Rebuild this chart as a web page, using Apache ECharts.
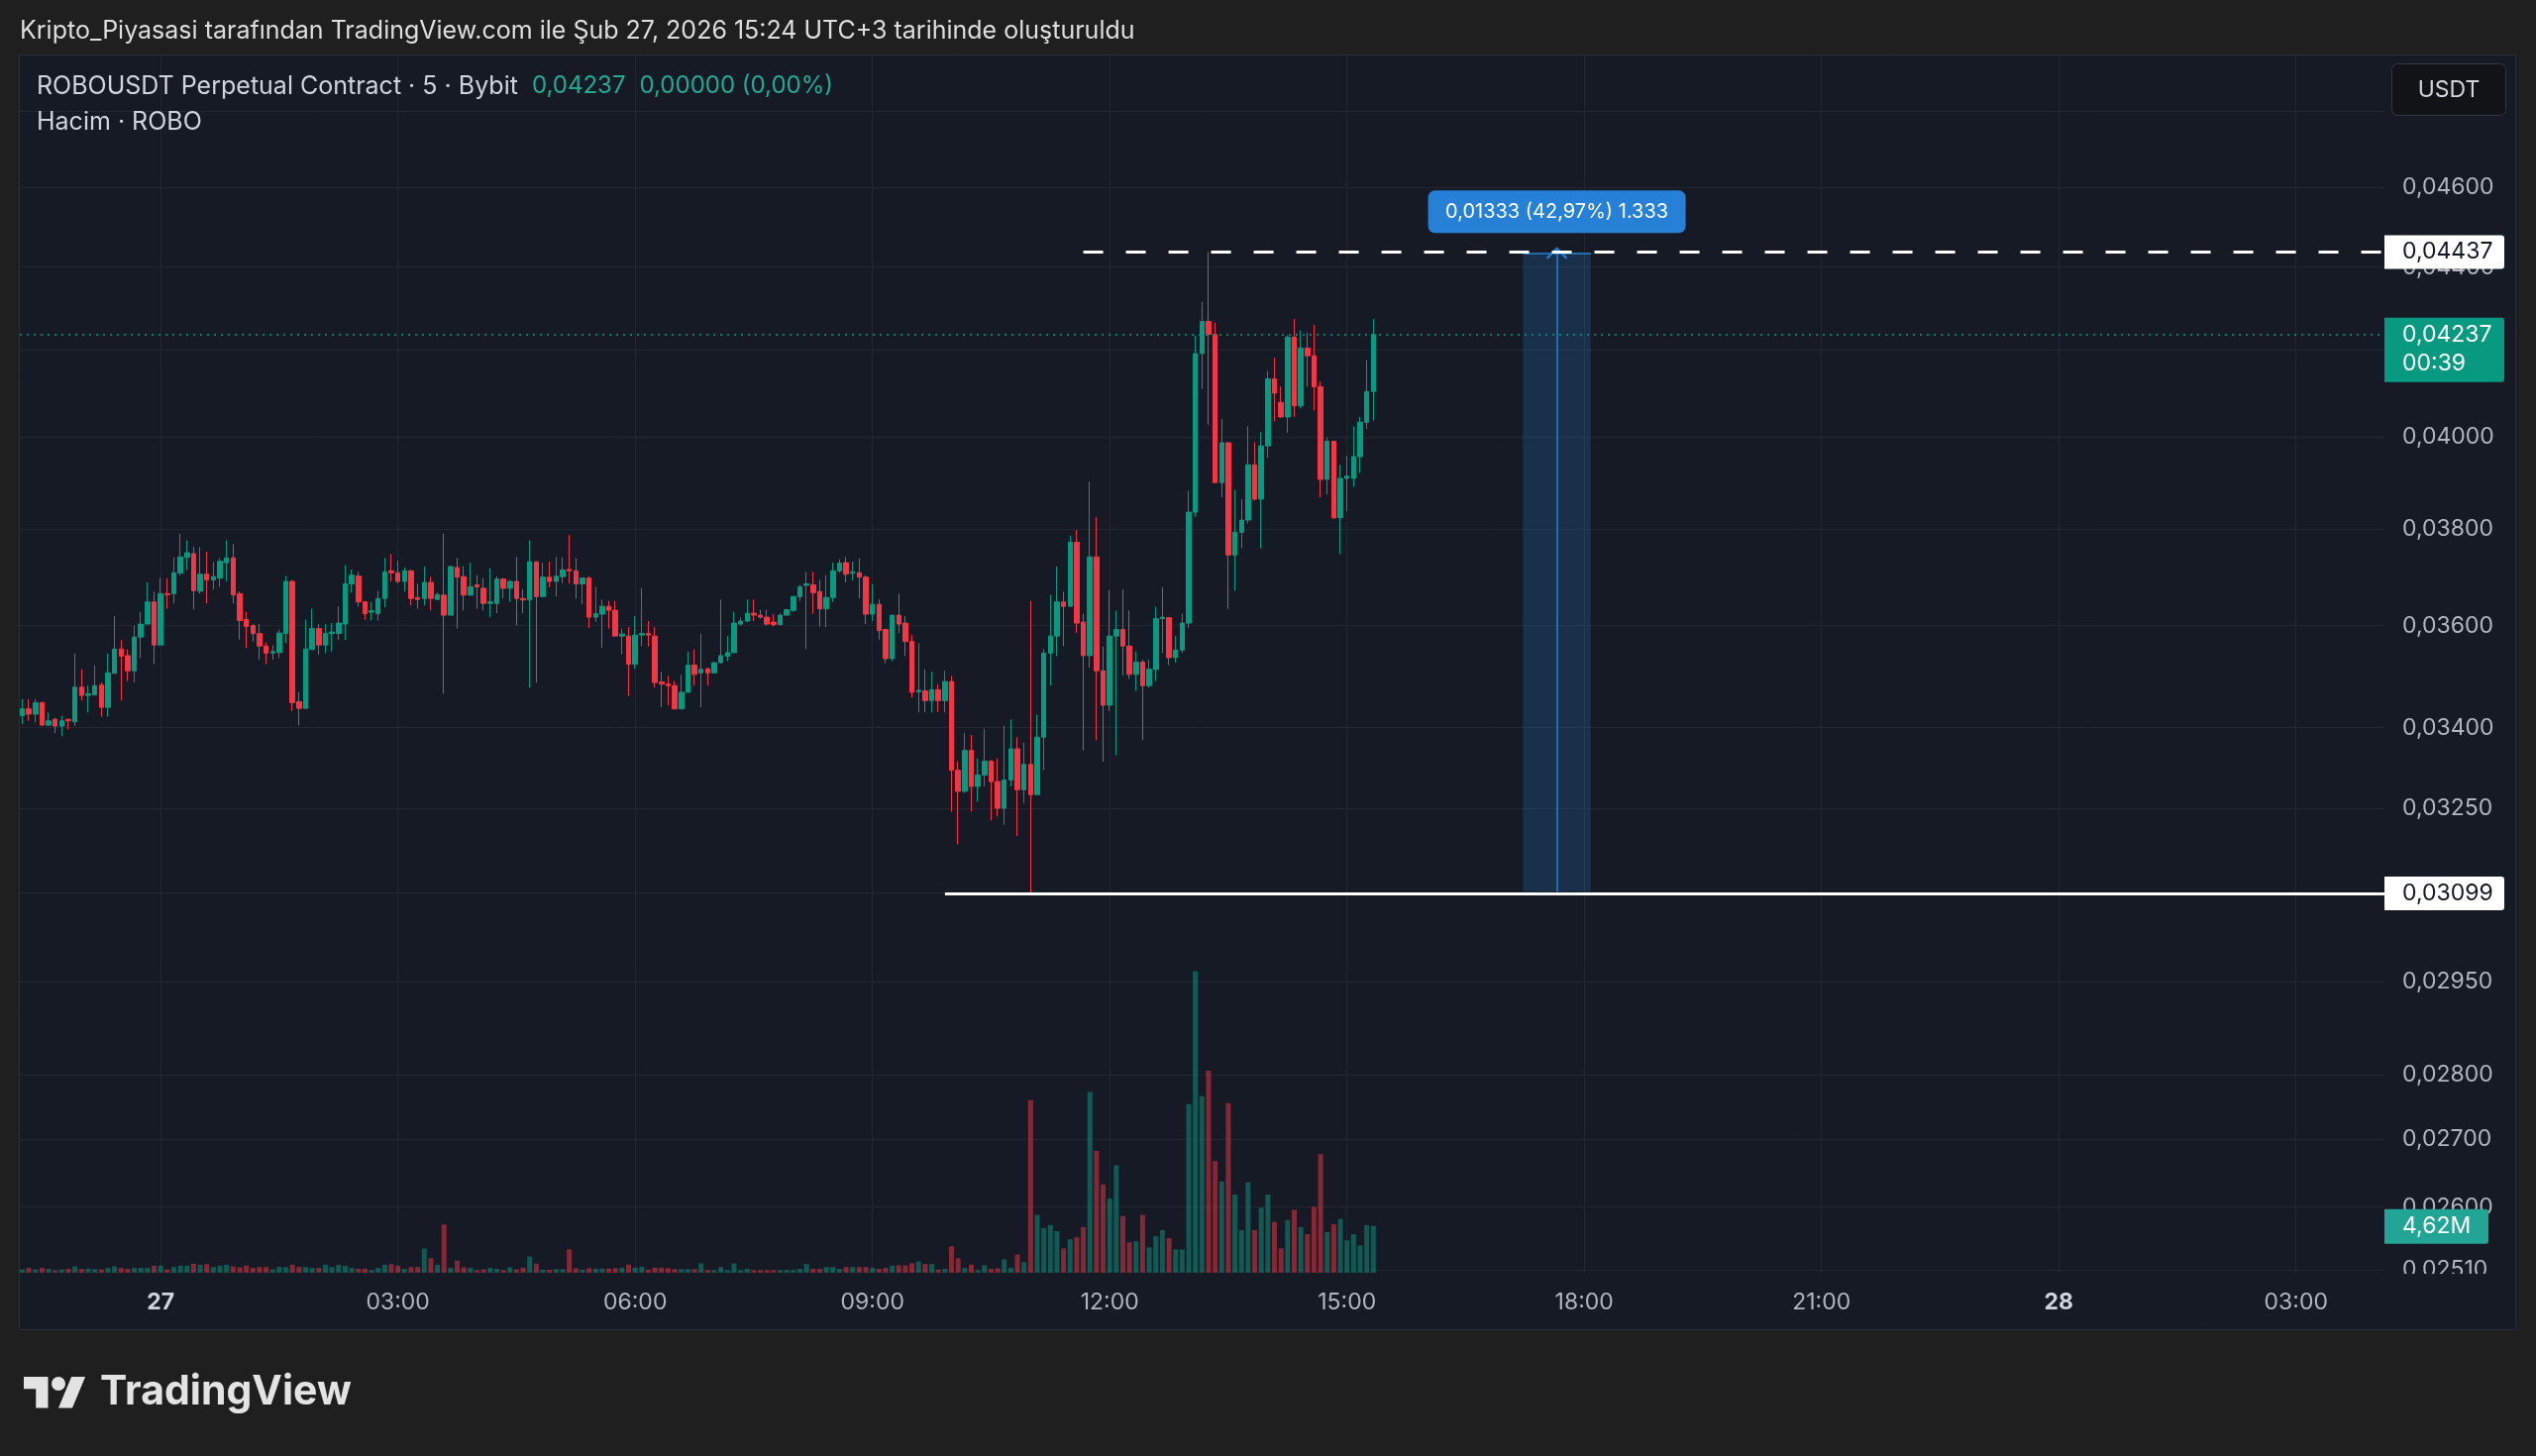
<!DOCTYPE html>
<html lang="tr">
<head>
<meta charset="utf-8">
<title>ROBOUSDT Perpetual Contract</title>
<script src="https://cdn.jsdelivr.net/npm/echarts@6.0.0/dist/echarts.min.js"></script>
<style>
html,body{margin:0;padding:0;background:#1f1f1f;}
#chart{width:2560px;height:1470px;}
</style>
</head>
<body>
<div id="chart"></div>
<script>
// ---- DATA (5-minute bars; bar index 0 = 27 Feb 00:00, first bar = 26 Feb 22:15) ----
const firstBar = -21;
const open = [
0.03423,0.03436,0.03426,0.03448,0.03405,0.03416,0.03403,0.03416,0.03411,0.03478,
0.03462,0.03463,0.03482,0.03439,0.03505,0.03553,0.03540,0.03510,0.03577,0.03603,
0.03648,0.03561,0.03665,0.03665,0.03707,0.03740,0.03748,0.03670,0.03705,0.03693,
0.03697,0.03729,0.03739,0.03665,0.03612,0.03600,0.03584,0.03559,0.03545,0.03546,
0.03584,0.03690,0.03450,0.03437,0.03552,0.03594,0.03561,0.03584,0.03584,0.03603,
0.03685,0.03701,0.03648,0.03627,0.03624,0.03655,0.03712,0.03708,0.03690,0.03712,
0.03657,0.03655,0.03688,0.03653,0.03662,0.03621,0.03719,0.03700,0.03662,0.03683,
0.03676,0.03645,0.03645,0.03695,0.03676,0.03690,0.03655,0.03652,0.03731,0.03659,
0.03699,0.03690,0.03700,0.03715,0.03712,0.03685,0.03697,0.03617,0.03623,0.03639,
0.03631,0.03579,0.03579,0.03523,0.03581,0.03584,0.03579,0.03488,0.03484,0.03481,
0.03436,0.03468,0.03521,0.03506,0.03514,0.03506,0.03526,0.03539,0.03546,0.03603,
0.03609,0.03625,0.03621,0.03617,0.03607,0.03602,0.03621,0.03631,0.03659,0.03682,
0.03683,0.03669,0.03634,0.03657,0.03712,0.03729,0.03707,0.03708,0.03699,0.03623,
0.03643,0.03592,0.03534,0.03621,0.03605,0.03568,0.03469,0.03471,0.03452,0.03473,
0.03452,0.03489,0.03320,0.03281,0.03357,0.03290,0.03311,0.03337,0.03299,0.03250,
0.03302,0.03360,0.03284,0.03331,0.03275,0.03382,0.03545,0.03579,0.03648,0.03639,
0.03772,0.03607,0.03540,0.03741,0.03510,0.03443,0.03579,0.03592,0.03559,0.03503,
0.03527,0.03481,0.03513,0.03614,0.03616,0.03536,0.03551,0.03605,0.03836,0.04192,
0.04268,0.04237,0.03900,0.03988,0.03745,0.03793,0.03819,0.03939,0.03864,0.03981,
0.04133,0.04079,0.04046,0.04231,0.04071,0.04205,0.04187,0.04115,0.03907,0.03991,
0.03824,0.03909,0.03909,0.03957,0.04034,0.04104];
const high = [
0.03455,0.03455,0.03455,0.03450,0.03429,0.03419,0.03423,0.03417,0.03544,0.03513,
0.03481,0.03521,0.03487,0.03544,0.03619,0.03571,0.03552,0.03600,0.03628,0.03688,
0.03669,0.03697,0.03697,0.03740,0.03790,0.03776,0.03762,0.03762,0.03752,0.03731,
0.03738,0.03776,0.03768,0.03669,0.03628,0.03603,0.03603,0.03566,0.03561,0.03592,
0.03702,0.03693,0.03468,0.03612,0.03634,0.03603,0.03603,0.03605,0.03639,0.03724,
0.03715,0.03710,0.03650,0.03648,0.03671,0.03739,0.03747,0.03733,0.03719,0.03714,
0.03685,0.03721,0.03700,0.03667,0.03790,0.03722,0.03739,0.03722,0.03729,0.03703,
0.03697,0.03717,0.03701,0.03697,0.03693,0.03741,0.03674,0.03776,0.03731,0.03729,
0.03731,0.03741,0.03740,0.03788,0.03738,0.03698,0.03700,0.03679,0.03653,0.03650,
0.03650,0.03594,0.03597,0.03619,0.03676,0.03609,0.03597,0.03508,0.03500,0.03490,
0.03502,0.03548,0.03552,0.03584,0.03516,0.03527,0.03653,0.03579,0.03628,0.03616,
0.03653,0.03653,0.03632,0.03632,0.03623,0.03625,0.03634,0.03660,0.03683,0.03710,
0.03710,0.03694,0.03703,0.03729,0.03736,0.03741,0.03731,0.03738,0.03703,0.03685,
0.03653,0.03594,0.03621,0.03665,0.03619,0.03581,0.03565,0.03513,0.03508,0.03484,
0.03510,0.03500,0.03337,0.03390,0.03386,0.03342,0.03398,0.03339,0.03342,0.03404,
0.03416,0.03382,0.03372,0.03650,0.03425,0.03553,0.03662,0.03721,0.03669,0.03786,
0.03798,0.03624,0.03902,0.03825,0.03558,0.03672,0.03630,0.03674,0.03631,0.03548,
0.03532,0.03532,0.03638,0.03678,0.03617,0.03579,0.03624,0.03882,0.04235,0.04315,
0.04437,0.04265,0.04041,0.03988,0.03884,0.03864,0.04025,0.03989,0.04012,0.04151,
0.04182,0.04115,0.04235,0.04274,0.04247,0.04242,0.04260,0.04127,0.04000,0.03991,
0.03939,0.03959,0.04025,0.04046,0.04177,0.04274];
const low = [
0.03407,0.03413,0.03410,0.03403,0.03403,0.03390,0.03384,0.03397,0.03403,0.03452,
0.03429,0.03462,0.03421,0.03421,0.03505,0.03452,0.03490,0.03487,0.03535,0.03603,
0.03523,0.03561,0.03634,0.03645,0.03703,0.03714,0.03632,0.03665,0.03645,0.03674,
0.03679,0.03690,0.03645,0.03572,0.03555,0.03568,0.03532,0.03523,0.03532,0.03535,
0.03565,0.03432,0.03405,0.03437,0.03552,0.03542,0.03545,0.03548,0.03571,0.03571,
0.03667,0.03638,0.03612,0.03610,0.03610,0.03637,0.03690,0.03686,0.03669,0.03641,
0.03634,0.03641,0.03631,0.03652,0.03465,0.03621,0.03594,0.03631,0.03660,0.03634,
0.03631,0.03617,0.03625,0.03655,0.03648,0.03600,0.03625,0.03477,0.03487,0.03659,
0.03678,0.03659,0.03686,0.03686,0.03655,0.03643,0.03595,0.03607,0.03555,0.03594,
0.03579,0.03543,0.03461,0.03514,0.03559,0.03558,0.03477,0.03439,0.03443,0.03436,
0.03436,0.03468,0.03481,0.03439,0.03481,0.03506,0.03524,0.03529,0.03545,0.03600,
0.03607,0.03609,0.03614,0.03600,0.03598,0.03600,0.03621,0.03628,0.03650,0.03553,
0.03624,0.03598,0.03597,0.03648,0.03708,0.03688,0.03692,0.03655,0.03603,0.03609,
0.03572,0.03525,0.03529,0.03585,0.03539,0.03458,0.03429,0.03429,0.03429,0.03430,
0.03429,0.03244,0.03185,0.03278,0.03244,0.03262,0.03290,0.03228,0.03235,0.03220,
0.03290,0.03200,0.03259,0.03099,0.03275,0.03320,0.03481,0.03539,0.03559,0.03639,
0.03585,0.03357,0.03516,0.03376,0.03336,0.03432,0.03348,0.03501,0.03494,0.03471,
0.03376,0.03477,0.03490,0.03545,0.03521,0.03526,0.03545,0.03595,0.03826,0.04110,
0.04028,0.03900,0.03868,0.03634,0.03671,0.03759,0.03812,0.03861,0.03759,0.03955,
0.04036,0.04044,0.04010,0.04046,0.04065,0.04115,0.04061,0.03868,0.03874,0.03821,
0.03747,0.03838,0.03891,0.03921,0.04019,0.04038];
const close = [
0.03436,0.03426,0.03448,0.03405,0.03413,0.03403,0.03413,0.03413,0.03478,0.03462,
0.03465,0.03481,0.03439,0.03506,0.03553,0.03539,0.03510,0.03577,0.03603,0.03648,
0.03561,0.03665,0.03663,0.03708,0.03741,0.03750,0.03671,0.03705,0.03693,0.03700,
0.03732,0.03739,0.03662,0.03610,0.03598,0.03584,0.03559,0.03545,0.03548,0.03585,
0.03690,0.03448,0.03437,0.03553,0.03594,0.03561,0.03584,0.03587,0.03605,0.03685,
0.03703,0.03648,0.03624,0.03630,0.03655,0.03710,0.03708,0.03690,0.03712,0.03655,
0.03653,0.03688,0.03655,0.03663,0.03621,0.03721,0.03699,0.03662,0.03679,0.03679,
0.03645,0.03648,0.03695,0.03676,0.03690,0.03655,0.03652,0.03731,0.03659,0.03699,
0.03690,0.03701,0.03714,0.03712,0.03685,0.03697,0.03617,0.03624,0.03639,0.03631,
0.03579,0.03583,0.03523,0.03581,0.03584,0.03581,0.03487,0.03484,0.03481,0.03436,
0.03468,0.03521,0.03503,0.03513,0.03506,0.03526,0.03540,0.03546,0.03605,0.03609,
0.03625,0.03621,0.03617,0.03603,0.03602,0.03621,0.03632,0.03659,0.03679,0.03685,
0.03667,0.03634,0.03657,0.03712,0.03728,0.03705,0.03710,0.03699,0.03623,0.03643,
0.03590,0.03534,0.03621,0.03603,0.03568,0.03468,0.03472,0.03452,0.03473,0.03452,
0.03489,0.03320,0.03281,0.03357,0.03290,0.03311,0.03337,0.03299,0.03250,0.03302,
0.03360,0.03284,0.03331,0.03275,0.03382,0.03545,0.03579,0.03648,0.03639,0.03772,
0.03605,0.03540,0.03741,0.03510,0.03443,0.03579,0.03592,0.03559,0.03503,0.03527,
0.03481,0.03513,0.03614,0.03617,0.03536,0.03551,0.03605,0.03836,0.04192,0.04268,
0.04237,0.03900,0.03988,0.03745,0.03793,0.03819,0.03939,0.03864,0.03981,0.04133,
0.04100,0.04046,0.04231,0.04071,0.04205,0.04187,0.04115,0.03907,0.03991,0.03824,
0.03909,0.03914,0.03957,0.04034,0.04104,0.04237];
// volume in millions ROBO
const volume = [
0.32,0.48,0.32,0.48,0.38,0.22,0.32,0.38,0.63,0.38,
0.41,0.35,0.32,0.48,0.63,0.48,0.38,0.48,0.48,0.48,
0.70,0.70,0.32,0.57,0.70,0.70,0.89,0.79,0.86,0.57,
0.70,0.79,0.63,0.54,0.70,0.48,0.57,0.57,0.32,0.57,
0.57,0.79,0.57,0.57,0.48,0.48,0.79,0.57,0.79,0.70,
0.48,0.38,0.38,0.25,0.48,0.79,0.86,0.70,0.38,0.57,
0.57,2.38,1.43,0.79,4.76,0.48,1.20,0.54,0.48,0.25,
0.32,0.48,0.38,0.25,0.54,0.32,0.50,1.60,0.90,0.30,
0.30,0.35,0.35,2.30,0.45,0.30,0.45,0.40,0.40,0.40,
0.45,0.50,0.80,0.50,0.60,0.30,0.50,0.50,0.45,0.35,
0.35,0.35,0.35,0.92,0.25,0.25,0.57,0.25,0.92,0.25,
0.38,0.25,0.25,0.25,0.25,0.25,0.25,0.25,0.38,0.86,
0.38,0.38,0.57,0.57,0.38,0.57,0.57,0.57,0.57,0.48,
0.38,0.48,0.70,0.73,0.73,0.95,1.11,0.86,0.86,0.30,
0.38,2.60,1.43,0.48,0.80,0.25,0.76,0.38,0.44,1.33,
0.48,1.81,1.05,17.0,5.7,4.4,4.7,4.1,2.4,3.3,
3.5,4.5,17.8,12.0,8.7,7.3,10.6,5.6,3.0,3.1,
5.7,2.5,3.6,4.2,3.4,2.3,2.3,16.6,29.7,17.4,
19.9,11.0,9.0,16.7,7.7,4.2,8.9,4.2,6.4,7.7,
5.0,2.4,5.2,6.2,4.5,3.8,6.5,11.7,4.0,4.8,
5.3,3.2,3.8,2.7,4.7,4.62];

// time axis: one label every 36 bars (3 hours)
const timeLabels = ['27','03:00','06:00','09:00','12:00','15:00','18:00','21:00','28','03:00'];
const barsPerLabel = 36;
// price scale (logarithmic) tick values
const priceTicks = [0.048,0.046,0.044,0.042,0.040,0.038,0.036,0.034,0.0325,0.031,0.0295,0.028,0.027,0.026,0.0251];
const unlabelledTicks = [0.048];

// drawings
const lastPrice = 0.04237;
const countdown = '00:39';
const highLevel = 0.04437, highLevelFromBar = 140;
const lowLevel = 0.03099, lowLevelFromBar = 119;
const rangeTop = 0.04435, rangeBottom = 0.03102, rangeFromBar = 206.7, rangeToBar = 217;
const priceTick = 0.00001;

const titleText = 'Kripto_Piyasasi tarafından TradingView.com ile Şub 27, 2026 15:24 UTC+3 tarihinde oluşturuldu';
const legendName = 'ROBOUSDT Perpetual Contract · 5 · Bybit';
const legendPrice = '0,04237';
const legendChange = '0,00000 (0,00%)';
const volumeLegend = 'Hacim · ROBO';
const currencyButton = 'USDT';

// ---- view / style ----
const viewStart = -21.37, viewEnd = 337.42;        // visible bar range
const axisPriceMin = 0.02506, axisPriceMax = 0.04956; // visible price range
const volumeAxisMax = 120;
const FONT = 'Inter, Roboto, "Noto Sans", sans-serif';
const COL = {
  page:'#1f1f1f', panel:'#161a25', panelBorder:'#2a2e39', grid:'#232733',
  up:'#089981', down:'#f23645', volUp:'rgba(8,153,129,0.5)', volDown:'rgba(242,54,69,0.5)',
  axisText:'#b2b5be', text:'#d1d4dc', title:'#dedede',
  range:'#2680d6', rangeFill:'rgba(38,128,214,0.22)', volTag:'#22a594'
};
const GRID = {left:20, top:55, width:2387, height:1230};

const L = p => Math.log(p);
const fmtPrice = p => p.toFixed(5).replace('.', ',');
const groupThousands = n => String(n).replace(/\B(?=(\d{3})+(?!\d))/g, '.');

const barIndex = open.map((_, k) => firstBar + k);
const candleData = barIndex.map((x, k) => [x, L(open[k]), L(close[k]), L(low[k]), L(high[k])]);
const volData = barIndex.map((x, k) => [x, volume[k]]);
const timeTickValues = timeLabels.map((_, k) => k * barsPerLabel);
const labelledTicks = priceTicks.filter(p => unlabelledTicks.indexOf(p) < 0);
const rangeMid = (rangeFromBar + rangeToBar) / 2;

const chart = echarts.init(document.getElementById('chart'), null, {renderer:'canvas', width:2560, height:1470});

const option = {
  animation:false,
  backgroundColor: COL.page,
  grid:[
    Object.assign({containLabel:false, outerBoundsMode:'none'}, GRID),
    Object.assign({containLabel:false, outerBoundsMode:'none'}, GRID)
  ],
  xAxis:[
    {
      type:'value', gridIndex:0, min:viewStart, max:viewEnd,
      axisLine:{show:false},
      axisTick:{show:false, customValues:timeTickValues},
      splitLine:{show:true, lineStyle:{color:COL.grid, width:1}},
      axisLabel:{
        customValues:timeTickValues, margin:19, fontSize:23, color:COL.axisText, fontFamily:FONT,
        formatter: v => {
          const s = timeLabels[Math.round(v / barsPerLabel)];
          return s.indexOf(':') < 0 ? '{d|' + s + '}' : s;
        },
        rich:{d:{fontSize:23, fontWeight:'bold', color:COL.text, fontFamily:FONT}}
      }
    },
    {type:'value', gridIndex:1, min:viewStart, max:viewEnd, show:false, splitLine:{show:false}}
  ],
  yAxis:[
    {
      type:'value', gridIndex:0, position:'right', min:L(axisPriceMin), max:L(axisPriceMax),
      axisLine:{show:false},
      axisTick:{show:false, customValues:priceTicks.map(L)},
      splitLine:{show:true, lineStyle:{color:COL.grid, width:1}},
      axisLabel:{
        customValues:labelledTicks.map(L), margin:18, fontSize:23, color:COL.axisText, fontFamily:FONT,
        formatter: v => fmtPrice(Math.exp(v))
      }
    },
    {type:'value', gridIndex:1, min:0, max:volumeAxisMax, show:false, splitLine:{show:false}}
  ],
  series:[
    {
      type:'bar', name:'Hacim', xAxisIndex:1, yAxisIndex:1, data:volData, barWidth:5, silent:true,
      itemStyle:{color: p => close[p.dataIndex] >= open[p.dataIndex] ? COL.volUp : COL.volDown}
    },
    {
      type:'candlestick', name:'ROBOUSDT', xAxisIndex:0, yAxisIndex:0, data:candleData,
      encode:{x:0, y:[1,2,3,4]}, barWidth:5, silent:true,
      itemStyle:{color:COL.up, color0:COL.down, borderColor:COL.up, borderColor0:COL.down, borderWidth:1},
      markArea:{
        silent:true, itemStyle:{color:COL.rangeFill},
        data:[[{coord:[rangeFromBar, L(rangeBottom)]}, {coord:[rangeToBar, L(rangeTop)]}]]
      },
      markLine:{
        silent:true, symbol:['none','none'], label:{show:false}, animation:false,
        data:[
          [{coord:[viewStart, L(lastPrice)], lineStyle:{color:COL.up, type:[2,5], width:1.5}}, {coord:[viewEnd, L(lastPrice)]}],
          [{coord:[rangeFromBar, L(rangeTop)], lineStyle:{color:COL.range, type:'solid', width:1.5}}, {coord:[rangeToBar, L(rangeTop)]}],
          [{coord:[rangeMid, L(rangeBottom)], symbol:'none', lineStyle:{color:COL.range, type:'solid', width:1.5}},
           {coord:[rangeMid, L(rangeTop)], symbol:'path://M0,10 L5,0 L10,10 L8.9,10.7 L5,2.4 L1.1,10.7 Z', symbolSize:[22,12]}],
          [{coord:[highLevelFromBar, L(highLevel)], lineStyle:{color:'#ffffff', type:[20,23], width:3}}, {coord:[viewEnd, L(highLevel)]}],
          [{coord:[lowLevelFromBar, L(lowLevel)], lineStyle:{color:'#ffffff', type:'solid', width:3}}, {coord:[viewEnd, L(lowLevel)]}]
        ]
      }
    }
  ]
};
chart.setOption(option);

// ---- overlay texts & scale tags, positioned through the chart's own scales ----
const yOf = p => chart.convertToPixel({xAxisIndex:0, yAxisIndex:0}, [0, L(p)])[1];
const xOf = b => chart.convertToPixel({xAxisIndex:0, yAxisIndex:0}, [b, L(lastPrice)])[0];
const yVol = chart.convertToPixel({xAxisIndex:1, yAxisIndex:1}, [0, volume[volume.length - 1]])[1];
const scaleX = GRID.left + GRID.width;

function txt(x, y, text, font, fill, align) {
  return {
    type:'text', x:x, y:y, z:120,
    style:{text:text, font:font, fill:fill, textAlign:align || 'left', align:align || 'left',
           textVerticalAlign:'middle', verticalAlign:'middle'}
  };
}
function tag(y, w, h, text, fill, textFill) {
  return {
    type:'group', x:scaleX, y:y - 17, z:110,
    children:[
      {type:'rect', z:110, shape:{x:0, y:0, width:w, height:h, r:[0,3,3,0]}, style:{fill:fill}},
      txt(18, 17, text, '23px ' + FONT, textFill, 'left')
    ]
  };
}

const diff = rangeTop - rangeBottom;
const rangeText = fmtPrice(diff) + ' (' + (diff / rangeBottom * 100).toFixed(2).replace('.', ',') + '%) ' +
  groupThousands(Math.round(diff / priceTick));
const rangeCx = xOf(rangeMid);
const rangeTopY = yOf(rangeTop);

const curTag = tag(yOf(lastPrice), 121, 65, fmtPrice(lastPrice), COL.up, '#ffffff');
curTag.children.push(txt(18, 46, countdown, '23px ' + FONT, '#ffffff', 'left'));

// TradingView logo mark (outline points in a 36x28 box)
const logoX = 24, logoY = 1383, logoS = 1.75;
const lp = pts => pts.map(p => [logoX + p[0] * logoS, logoY + p[1] * logoS]);

const graphics = [
  {type:'rect', z:-100, shape:{x:19.5, y:55.5, width:2520, height:1287}, style:{fill:COL.panel, stroke:COL.panelBorder, lineWidth:1}},
  // cover for the part of the price scale that runs into the time scale strip
  {type:'rect', z:50, shape:{x:scaleX + 1, y:GRID.top + GRID.height + 1, width:130, height:56}, style:{fill:COL.panel}},
  txt(20, 31, titleText, '25px ' + FONT, COL.title, 'left'),
  {
    type:'text', x:37, y:87, z:120,
    style:{
      text:'{n|' + legendName + '}  {g|' + legendPrice + '}  {g|' + legendChange + '}',
      textVerticalAlign:'middle', verticalAlign:'middle',
      rich:{
        n:{fill:COL.text, fontSize:25, fontFamily:FONT},
        g:{fill:'#22ab94', fontSize:24, fontFamily:FONT}
      },
      font:'25px ' + FONT, fill:COL.text
    }
  },
  txt(37, 123, volumeLegend, '25px ' + FONT, COL.text, 'left'),
  {type:'rect', z:110, shape:{x:2414.5, y:64.5, width:115, height:52, r:6}, style:{fill:'#121317', stroke:'#34373f', lineWidth:1}},
  txt(2472, 91, currencyButton, '23px ' + FONT, COL.text, 'center'),
  // TradingView logo mark + wordmark
  {type:'polygon', z:120, shape:{points:lp([[14,22],[7,22],[7,11],[0,11],[0,4],[14,4]])}, style:{fill:'#e3e3e3'}},
  {type:'polygon', z:120, shape:{points:lp([[28,22],[20,22],[27.5,4],[35.5,4]])}, style:{fill:'#e3e3e3'}},
  {type:'circle', z:120, shape:{cx:logoX + 20 * logoS, cy:logoY + 8 * logoS, r:4 * logoS}, style:{fill:'#e3e3e3'}},
  txt(101, 1406, 'TradingView', 'bold 41px ' + FONT, '#e3e3e3', 'left'),
  // price-scale tags
  tag(yOf(highLevel), 121, 34, fmtPrice(highLevel), '#ffffff', '#131722'),
  curTag,
  tag(yOf(lowLevel), 121, 34, fmtPrice(lowLevel), '#ffffff', '#131722'),
  tag(yVol, 105, 35, volume[volume.length - 1].toFixed(2).replace('.', ',') + 'M', COL.volTag, '#ffffff'),
  // price range label
  {
    type:'group', x:rangeCx - 130, y:rangeTopY - 20 - 43, z:115,
    children:[
      {type:'rect', z:115, shape:{x:0, y:0, width:260, height:43, r:7}, style:{fill:COL.range}},
      txt(130, 22, rangeText, '20px ' + FONT, '#ffffff', 'center')
    ]
  }
];
chart.setOption({graphic:{elements:graphics}});
</script>
</body>
</html>
